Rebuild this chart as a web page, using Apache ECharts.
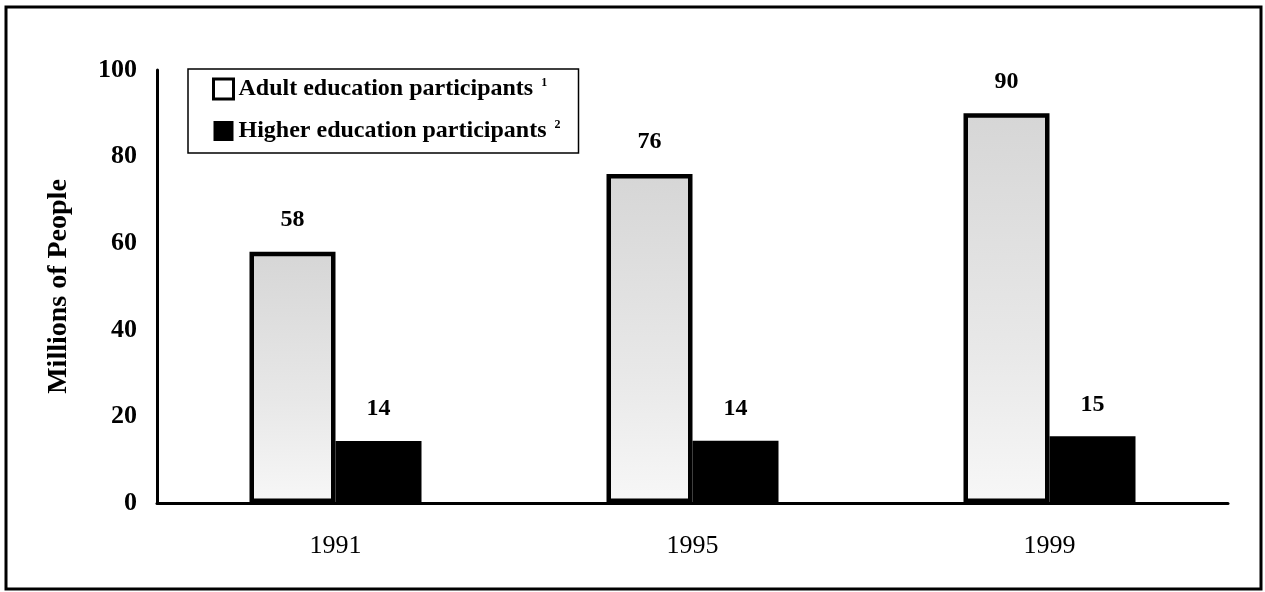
<!DOCTYPE html>
<html>
<head>
<meta charset="utf-8">
<title>Adult and higher education participants</title>
<script src="https://cdn.jsdelivr.net/npm/echarts@6/dist/echarts.min.js"></script>
<style>
  html, body { margin: 0; padding: 0; background: #fff; }
  #chart { width: 1265px; height: 592px; }
</style>
</head>
<body>
<div id="chart"></div>
<script>
var years = ['1991', '1995', '1999']
var adultValues = [58, 76, 90]
var higherValues = [14.3, 14.4, 15.4]
var seriesNames = ['Adult education participants', 'Higher education participants']
var footnotes = ['1', '2']
var yTicks = { min: 0, max: 100, step: 20 }

var serif = "'Liberation Serif', 'Times New Roman', serif"

var chart = echarts.init(document.getElementById('chart'))

var valueLabel = {
  show: true,
  position: 'top',
  distance: 20,
  fontFamily: serif,
  fontSize: 24,
  fontWeight: 'bold',
  color: '#000',
  formatter: function(p) {
    return Math.round(p.value)
  }
}

chart.setOption({
  backgroundColor: '#fff',
  animation: false,
  graphic: [{
    type: 'rect',
    shape: { x: 6, y: 7, width: 1255, height: 582 },
    style: { fill: 'none', stroke: '#000', lineWidth: 3 },
    silent: true
  }],
  grid: {
    left: 157,
    right: 37,
    top: 70,
    bottom: 89
  },
  legend: {
    orient: 'vertical',
    left: 188,
    top: 69,
    padding: [8, 18, 10, 24],
    itemGap: 18,
    itemWidth: 20,
    itemHeight: 20,
    borderColor: '#000',
    borderWidth: 1.5,
    icon: 'rect',
    data: [
      { name: seriesNames[0], itemStyle: { color: '#fff', borderColor: '#000', borderWidth: 3 } },
      { name: seriesNames[1], itemStyle: { color: '#000', borderWidth: 0 } }
    ],
    formatter: function(name) {
      return '{t|' + name + '}{s|' + footnotes[seriesNames.indexOf(name)] + '}'
    },
    textStyle: {
      rich: {
        t: {
          fontFamily: serif,
          fontSize: 24,
          fontWeight: 'bold',
          color: '#000',
          padding: [0, 0, 0, 0]
        },
        s: {
          fontFamily: serif,
          fontSize: 12,
          fontWeight: 'bold',
          color: '#000',
          verticalAlign: 'top',
          padding: [0, 0, 0, 8]
        }
      }
    }
  },
  xAxis: {
    type: 'category',
    data: years,
    axisLine: { lineStyle: { color: '#000', width: 3 } },
    axisTick: { show: false },
    axisLabel: {
      margin: 30,
      fontFamily: serif,
      fontSize: 26,
      color: '#000'
    }
  },
  yAxis: {
    type: 'value',
    min: yTicks.min,
    max: yTicks.max,
    interval: yTicks.step,
    name: 'Millions of People',
    nameLocation: 'middle',
    nameGap: 84,
    nameTextStyle: {
      fontFamily: serif,
      fontSize: 28,
      fontWeight: 'bold',
      color: '#000'
    },
    axisLine: { show: true, lineStyle: { color: '#000', width: 3 } },
    axisTick: { show: false },
    splitLine: { show: false },
    axisLabel: {
      margin: 20,
      fontFamily: serif,
      fontSize: 26,
      fontWeight: 'bold',
      color: '#000'
    }
  },
  series: [{
    name: seriesNames[0],
    type: 'bar',
    barWidth: 86,
    barGap: '0%',
    data: adultValues,
    itemStyle: {
      color: {
        type: 'linear', x: 0, y: 0, x2: 0, y2: 1,
        colorStops: [
          { offset: 0, color: '#d6d6d6' },
          { offset: 0.6, color: '#e8e8e8' },
          { offset: 1, color: '#f7f7f7' }
        ]
      },
      borderColor: '#000',
      borderWidth: 4.5
    },
    label: valueLabel
  }, {
    name: seriesNames[1],
    type: 'bar',
    barWidth: 86,
    barGap: '0%',
    data: higherValues,
    itemStyle: { color: '#000' },
    label: valueLabel
  }]
})
</script>
</body>
</html>
